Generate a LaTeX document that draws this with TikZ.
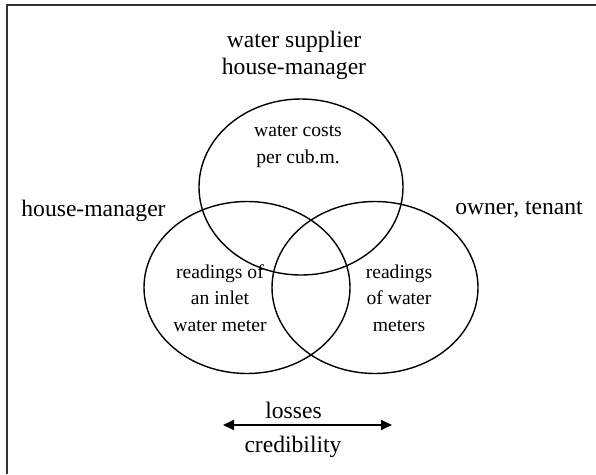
\documentclass[tikz,border=0pt]{standalone}
\usepackage{fontspec}
\setmainfont{Liberation Serif}
\usetikzlibrary{shapes.geometric,arrows.meta}
\definecolor{framegray}{HTML}{333333}
\begin{document}
\begin{tikzpicture}[x=1pt,y=-1pt,
  bigtext/.style={font=\fontsize{23.6}{26.5}\selectfont, inner sep=0pt, anchor=base, align=center},
  smalltext/.style={font=\fontsize{19.6}{26.5}\selectfont, inner sep=0pt, anchor=base, align=center},
  setring/.style={draw, ellipse, line width=1.4pt, inner sep=0pt},
  scale arrow/.style={line width=1.8pt, {Triangle[length=11pt,width=10pt]}-{Triangle[length=11pt,width=10pt]}}
]
\useasboundingbox (0,0) rectangle (596,474);
% frame: left and top edges only
\draw[framegray, line width=2pt] (7,474) -- (7,4.8) -- (596,4.8);

% the three sets
\node[setring, minimum width=204pt, minimum height=176pt] (costs) at (301,187) {};
\node[setring, minimum width=206pt, minimum height=172pt] (inlet) at (247,287.5) {};
\node[setring, minimum width=206pt, minimum height=172pt] (meters) at (375,287.5) {};

% who is responsible (multi-line nodes sit on the baseline of their last line)
\node[bigtext] (supplier) at (294,74) {water supplier\\house-manager};
\node[bigtext] (manager) at (93.5,216) {house-manager};
\node[bigtext] (owner) at (519,214) {owner, tenant};

% contents of the sets
\node[smalltext] (costtext) at (298,163) {water costs\\per cub.m.};
\node[smalltext] (inlettext) at (220,331) {readings of\\an inlet\\water meter};
\node[smalltext] (metertext) at (399,331) {readings\\of water\\meters};

% scale between losses and credibility
\coordinate (lossL) at (223,425);
\coordinate (lossR) at (392,425);
\draw[scale arrow] (lossL) -- (lossR);
\node[bigtext] (losses) at (293.5,418) {losses};
\node[bigtext] (cred) at (293,452) {credibility};
\end{tikzpicture}
\end{document}
